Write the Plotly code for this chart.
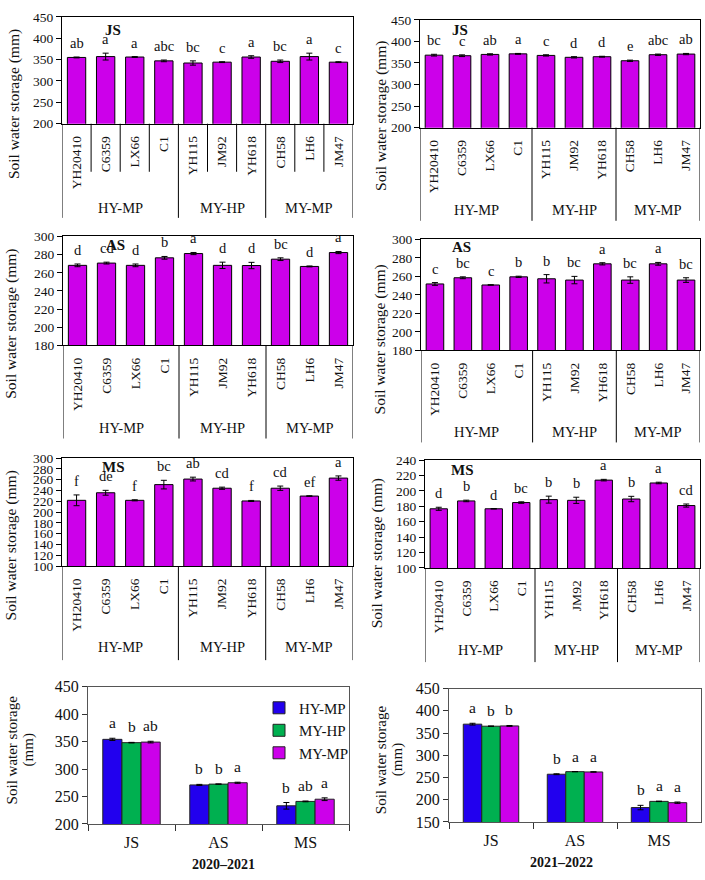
import plotly.graph_objects as go

W, H = 705, 880

# ---------------- data ----------------
cultivars = ["YH20410", "C6359", "LX66", "C1", "YH115", "JM92", "YH618", "CH58", "LH6", "JM47"]
groups = ["HY-MP", "MY-HP", "MY-MP"]
group_sizes = [4, 3, 3]
stages = ["JS", "AS", "MS"]

js_2021 = [355, 357, 356, 347, 342, 344, 356, 346, 357, 344]
js_2021_err = [1, 8, 1, 2, 5, 1, 3, 3, 8, 1]
js_2021_sig = ["ab", "a", "a", "abc", "bc", "c", "a", "bc", "a", "c"]

js_2122 = [368, 366.7, 369.7, 371, 367.4, 363, 364.4, 355, 369, 370.5]
js_2122_err = [2, 2, 1.5, 1, 1.5, 1.5, 1, 1.5, 1.5, 1.5]
js_2122_sig = ["bc", "c", "ab", "a", "c", "d", "d", "e", "abc", "ab"]

as_2021 = [268.2, 270.7, 268.2, 276.5, 281.2, 268.2, 268, 275, 267, 282.3]
as_2021_err = [1.5, 1, 1.5, 1.5, 1.2, 3.5, 3.5, 1.5, 0.5, 1.2]
as_2021_sig = ["d", "cd", "d", "b", "a", "d", "d", "bc", "d", "a"]

as_2122 = [251.8, 258.5, 250.7, 259.5, 257.4, 256, 273.6, 256, 273.6, 256]
as_2122_err = [1.5, 1, 0.3, 0.7, 4.5, 4, 1.2, 3.5, 1.5, 2.5]
as_2122_sig = ["c", "bc", "c", "b", "b", "bc", "a", "bc", "a", "bc"]

ms_2021 = [221.8, 235.8, 221.8, 250.9, 261.2, 244.2, 220.6, 244.2, 229.7, 263]
ms_2021_err = [10, 4.5, 1, 8, 3.5, 2, 1, 4, 0.5, 4]
ms_2021_sig = ["f", "de", "f", "bc", "ab", "cd", "f", "cd", "ef", "a"]

ms_2122 = [176.8, 187, 176.8, 184.9, 188.7, 187.8, 214, 189.5, 210.3, 181]
ms_2122_err = [2, 1, 0.3, 1, 4.5, 4, 1, 3.5, 1, 2]
ms_2122_sig = ["d", "b", "d", "bc", "b", "b", "a", "b", "a", "cd"]

# group means by stage (JS, AS, MS)
hymp_2021 = [354, 271, 233]
hymp_2021_err = [2, 1, 6]
hymp_2021_sig = ["a", "b", "b"]
myhp_2021 = [348, 272.5, 241]
myhp_2021_err = [0.5, 0.3, 0.7]
myhp_2021_sig = ["b", "b", "ab"]
mymp_2021 = [349, 275, 245]
mymp_2021_err = [1.5, 1, 2.5]
mymp_2021_sig = ["ab", "a", "a"]

hymp_2122 = [370, 257.4, 182.4]
hymp_2122_err = [2, 1, 5]
hymp_2122_sig = ["a", "b", "b"]
myhp_2122 = [365.4, 263.2, 196.3]
myhp_2122_err = [0.5, 0.3, 0.5]
myhp_2122_sig = ["b", "a", "a"]
mymp_2122 = [366, 262.5, 193.4]
mymp_2122_err = [1, 0.5, 1.5]
mymp_2122_sig = ["b", "a", "a"]

year_labels = ["2020–2021", "2021–2022"]
y_title = "Soil water storage (mm)"

# ---------------- style ----------------
FONT = "Liberation Serif"
TXT = "#111"
MAG = "#CC00EA"
BLUE = "#2200EE"
GREEN = "#00B050"
group_colors = [BLUE, GREEN, MAG]


def px_x(v):
    return v / W


def px_y(v):
    return 1 - v / H


fig = go.Figure()
annotations = []
shapes = []


def ann(**kw):
    d = dict(showarrow=False, xanchor="center", yanchor="middle")
    d.update(kw)
    annotations.append(d)


top_panels = [
    dict(data=(js_2021, js_2021_err, js_2021_sig), box=(62, 353, 9, 118), rng=(200, 450), dtick=50,
         lab="JS", lab_xy=(113, 22), line_end=214, glab_y=204, inner=True, tx=14, ty=98),
    dict(data=(js_2122, js_2122_err, js_2122_sig), box=(420, 700, 12, 122), rng=(200, 450), dtick=50,
         lab="JS", lab_xy=(460, 22), line_end=217, glab_y=206, inner=False, tx=381, ty=110),
    dict(data=(as_2021, as_2021_err, as_2021_sig), box=(63, 353, 233, 344), rng=(180, 300), dtick=20,
         lab="AS", lab_xy=(116, 242), line_end=439, glab_y=428, inner=False, tx=11, ty=322),
    dict(data=(as_2122, as_2122_err, as_2122_sig), box=(421, 700, 236, 349), rng=(180, 300), dtick=20,
         lab="AS", lab_xy=(462, 244), line_end=443, glab_y=432, inner=False, tx=380, ty=338),
    dict(data=(ms_2021, ms_2021_err, ms_2021_sig), box=(62, 353, 459, 569), rng=(100, 300), dtick=20,
         lab="MS", lab_xy=(113, 468), line_end=665, glab_y=652, inner=False, tx=11, ty=548),
    dict(data=(ms_2122, ms_2122_err, ms_2122_sig), box=(425, 700, 461, 571), rng=(100, 240), dtick=20,
         lab="MS", lab_xy=(463, 471), line_end=667, glab_y=655, inner=False, tx=377, ty=556),
]

layout_axes = {}
k = 0
for p in top_panels:
    k += 1
    vals, errs, sigs = p["data"]
    l, r, t, b = p["box"]
    xa, ya = f"x{k}", f"y{k}"
    fig.add_trace(go.Bar(
        x=cultivars, y=vals, width=0.63,
        error_y=dict(type="data", array=errs, color="black", thickness=1, width=3),
        marker=dict(color=MAG, line=dict(color="black", width=1)),
        xaxis=xa, yaxis=ya, showlegend=False,
    ))
    layout_axes[f"xaxis{k}"] = dict(
        domain=[px_x(l), px_x(r)], anchor=ya, type="category",
        categoryorder="array", categoryarray=cultivars, range=[-0.5, len(cultivars) - 0.5],
        tickangle=-90, ticks="", showline=True, linecolor="black", linewidth=1, mirror=True,
        tickfont=dict(family=FONT, size=13.5, color=TXT), ticklabelstandoff=6,
        showgrid=False, zeroline=False,
    )
    layout_axes[f"yaxis{k}"] = dict(
        domain=[px_y(b), px_y(t)], anchor=xa, range=list(p["rng"]), dtick=p["dtick"],
        ticks="outside", ticklen=5, tickcolor="black", showline=True, linecolor="black",
        linewidth=1, mirror=True, showgrid=False, zeroline=False,
        tickfont=dict(family=FONT, size=13.5, color=TXT),
    )
    # significance letters
    for i, (v, e, s) in enumerate(zip(vals, errs, sigs)):
        ann(x=i, y=v + e, xref=xa, yref=ya, text=s, yanchor="bottom", yshift=4,
            font=dict(family=FONT, size=14.5, color=TXT))
    # stage label
    ann(x=px_x(p["lab_xy"][0]), y=px_y(p["lab_xy"][1]), xref="paper", yref="paper",
        text=f"<b>{p['lab']}</b>", font=dict(family=FONT, size=15, color=TXT))
    # group separators and labels
    bounds = [-0.5]
    for gs in group_sizes:
        bounds.append(bounds[-1] + gs)
    for bx in bounds:
        shapes.append(dict(type="line", xref=xa, yref="paper", x0=bx, x1=bx,
                           y0=px_y(b), y1=px_y(p["line_end"]), line=dict(color="black", width=1)))
    if p["inner"]:
        for i in range(1, len(cultivars)):
            bx = i - 0.5
            if bx not in bounds:
                shapes.append(dict(type="line", xref=xa, yref="paper", x0=bx, x1=bx,
                                   y0=px_y(b), y1=px_y(167), line=dict(color="black", width=1)))
    for gi, g in enumerate(groups):
        cx = (bounds[gi] + bounds[gi + 1]) / 2
        ann(x=cx, y=px_y(p["glab_y"]), xref=xa, yref="paper", text=g,
            font=dict(family=FONT, size=14.5, color=TXT))
    # y title
    ann(x=px_x(p["tx"]), y=px_y(p["ty"]), xref="paper", yref="paper",
        text=y_title, textangle=-90, font=dict(family=FONT, size=15.5, color=TXT))

bottom_panels = [
    dict(series=[(hymp_2021, hymp_2021_err, hymp_2021_sig), (myhp_2021, myhp_2021_err, myhp_2021_sig),
                 (mymp_2021, mymp_2021_err, mymp_2021_sig)],
         box=(88, 349, 692, 832), rng=(200, 450), year=year_labels[0], year_xy=(223, 873),
         tx=(12, 28), ty=757, legend=True),
    dict(series=[(hymp_2122, hymp_2122_err, hymp_2122_sig), (myhp_2122, myhp_2122_err, myhp_2122_sig),
                 (mymp_2122, mymp_2122_err, mymp_2122_sig)],
         box=(449, 701, 694, 830), rng=(150, 450), year=year_labels[1], year_xy=(561, 871),
         tx=(381, 397), ty=767, legend=False),
]

BARGAP = 0.34
bw = (1 - BARGAP) / 3
for p in bottom_panels:
    k += 1
    l, r, t, b = p["box"]
    xa, ya = f"x{k}", f"y{k}"
    for gi, (vals, errs, sigs) in enumerate(p["series"]):
        fig.add_trace(go.Bar(
            x=stages, y=vals, name=groups[gi], offsetgroup=str(gi), legendgroup=groups[gi],
            showlegend=p["legend"],
            error_y=dict(type="data", array=errs, color="black", thickness=1, width=3),
            marker=dict(color=group_colors[gi], line=dict(color="#222", width=1)),
            xaxis=xa, yaxis=ya,
        ))
        off = (gi - 1) * bw
        for i, (v, e, s) in enumerate(zip(vals, errs, sigs)):
            ann(x=i + off, y=v + e, xref=xa, yref=ya, text=s, yanchor="bottom", yshift=5,
                font=dict(family=FONT, size=15.5, color=TXT))
    layout_axes[f"xaxis{k}"] = dict(
        domain=[px_x(l), px_x(r)], anchor=ya, type="category",
        categoryorder="array", categoryarray=stages, range=[-0.5, len(stages) - 0.5],
        tickson="boundaries", ticks="outside", ticklen=6, tickcolor="#333",
        showline=True, linecolor="#555", linewidth=1, mirror=True, ticklabelstandoff=4,
        tickfont=dict(family=FONT, size=16, color=TXT), showgrid=False, zeroline=False,
    )
    layout_axes[f"yaxis{k}"] = dict(
        domain=[px_y(b), px_y(t)], anchor=xa, range=list(p["rng"]), dtick=50,
        ticks="outside", ticklen=5, tickcolor="#333", showline=True, linecolor="#555",
        linewidth=1, mirror=True, showgrid=False, zeroline=False,
        tickfont=dict(family=FONT, size=16, color=TXT),
    )
    ann(x=px_x(p["year_xy"][0]), y=px_y(p["year_xy"][1]), xref="paper", yref="paper",
        text=f"<b>{p['year']}</b>", font=dict(family=FONT, size=14, color=TXT))
    ann(x=px_x(p["tx"][0]), y=px_y(p["ty"]), xref="paper", yref="paper",
        text="Soil water storage", textangle=-90, font=dict(family=FONT, size=15, color=TXT))
    ann(x=px_x(p["tx"][1]), y=px_y(p["ty"]), xref="paper", yref="paper",
        text="(mm)", textangle=-90, font=dict(family=FONT, size=15, color=TXT))

fig.update_layout(
    width=W, height=H, autosize=False,
    margin=dict(l=0, r=0, t=0, b=0),
    paper_bgcolor="white", plot_bgcolor="white",
    barmode="group", bargap=BARGAP, bargroupgap=0,
    font=dict(family=FONT, color=TXT),
    legend=dict(x=px_x(259), y=px_y(697), xanchor="left", yanchor="top",
                bgcolor="rgba(0,0,0,0)", font=dict(family=FONT, size=15, color=TXT),
                tracegroupgap=0),
    annotations=annotations, shapes=shapes,
    **layout_axes,
)

fig.write_html("out.html", post_script="document.body.style.margin='0px';")
